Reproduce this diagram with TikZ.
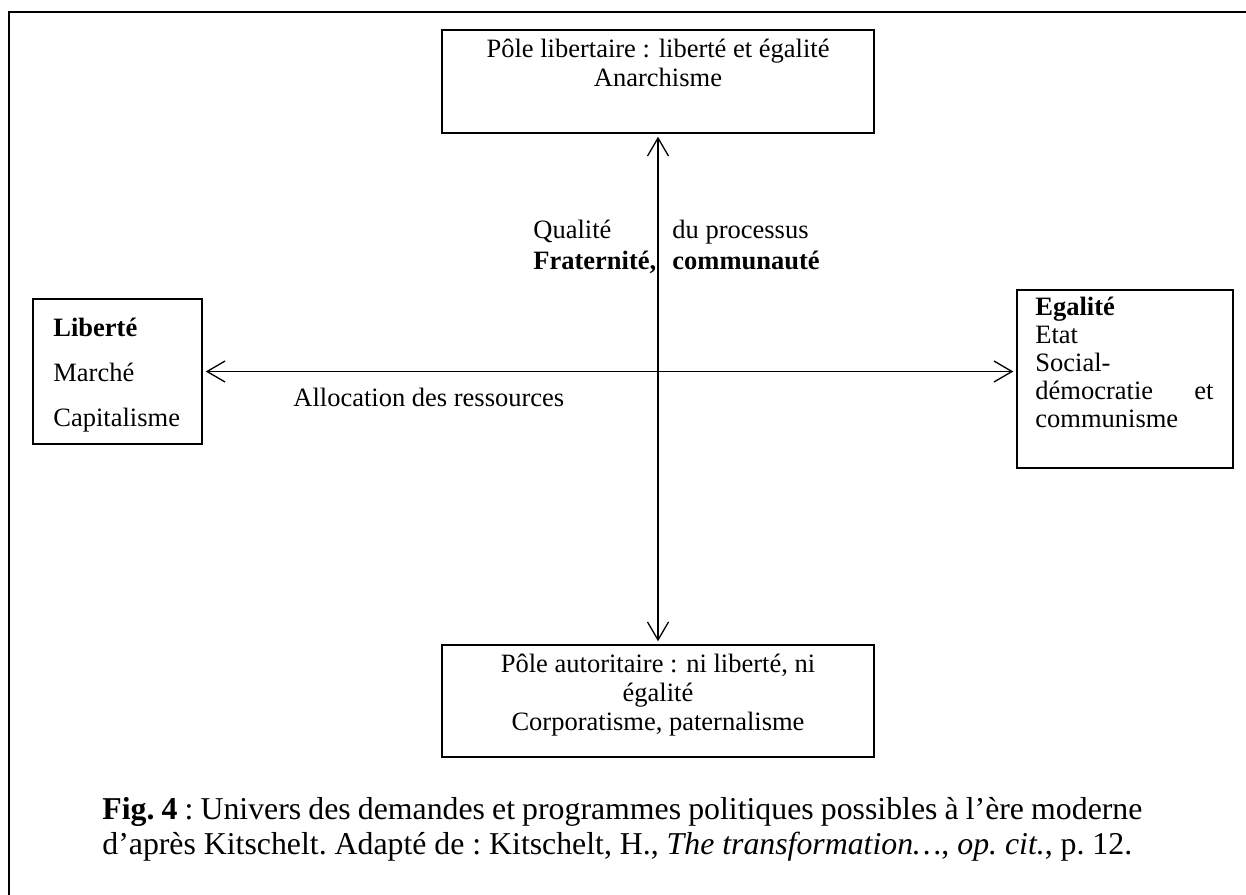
\documentclass[tikz,border=0pt]{standalone}
\usepackage{fontspec}
\setmainfont{Liberation Serif}
\usetikzlibrary{arrows.meta}
\tikzset{
	polebox/.style={draw, line width=0.75pt, inner sep=0pt},
	axisarrow/.style={line width=0.65pt, {Straight Barb[length=9pt,width=10.5pt]}-{Straight Barb[length=9pt,width=10.5pt]}, shorten <=1.5pt, shorten >=1.5pt},
	boxtext/.style={inner sep=0pt, font=\fontsize{13.25}{14.5}\selectfont},
	axislabel/.style={inner sep=0pt, anchor=base west, font=\fontsize{13.25}{14.5}\selectfont},
}

\begin{document}
\begin{tikzpicture}[x=0.5pt, y=-0.5pt]
	%%%%% START %%%%%
	\useasboundingbox (0, 0) rectangle (1246, 894);
	\draw[line width=1.15pt] (9, 12) rectangle (1262, 910);
	
	% boxes
	\node[polebox, minimum width=216pt, minimum height=51.5pt] (libertaire) at (658, 81.5) {};
	\node[polebox, minimum width=216pt, minimum height=56pt] (autoritaire) at (658, 701) {};
	\node[polebox, minimum width=84.5pt, minimum height=72.5pt] (liberte) at (117.5, 371.5) {};
	\node[polebox, minimum width=108pt, minimum height=89pt] (egalite) at (1125, 379) {};
	
	% texts of the boxes
	\node[boxtext, align=center, anchor=north] (libertairetxt) at (658, 38.5) {Pôle libertaire : liberté et égalité\\ Anarchisme};
	\node[boxtext, align=center, anchor=north] (autoritairetxt) at (658, 654) {Pôle autoritaire : ni liberté, ni\\ égalité\\ Corporatisme, paternalisme};
	\node[boxtext, align=left, anchor=north west, font=\fontsize{13.25}{22.5}\selectfont] (libertetxt) at (53, 317.5) {\textbf{Liberté}\\ Marché\\ Capitalisme};
	\node[boxtext, align=left, anchor=north west, text width=89pt, font=\fontsize{13.25}{14}\selectfont] (egalitetxt) at (1035, 296.5) {\textbf{Egalité}\\ Etat\\ Social-\\ démocratie\hfill et\\ communisme};
	
	% axes
	\draw[axisarrow] (liberte.east) -- (egalite.west |- liberte.east);
	\draw[axisarrow] (libertaire.south) -- (autoritaire.north);
	
	\node[axislabel] (qualite) at (533, 238) {Qualité};
	\node[axislabel] (processus) at (672, 238) {du processus};
	\node[axislabel] (fraternite) at (533, 269) {\textbf{Fraternité,}};
	\node[axislabel] (communaute) at (672, 269) {\textbf{communauté}};
	\node[axislabel] (allocation) at (293, 406) {Allocation des ressources};
	
	% caption
	\node[anchor=north west, inner sep=0pt, text width=520pt, align=justify, font=\fontsize{15.9}{17.5}\selectfont\frenchspacing] (legende) at (102, 797) {\textbf{Fig. 4} : Univers des demandes et programmes politiques possibles à l’ère moderne\linebreak d’après Kitschelt. Adapté de : Kitschelt, H., \textit{The transformation…}, \textit{op. cit.}, p. 12.};
	%%%%% END %%%%%
\end{tikzpicture}
\end{document}
